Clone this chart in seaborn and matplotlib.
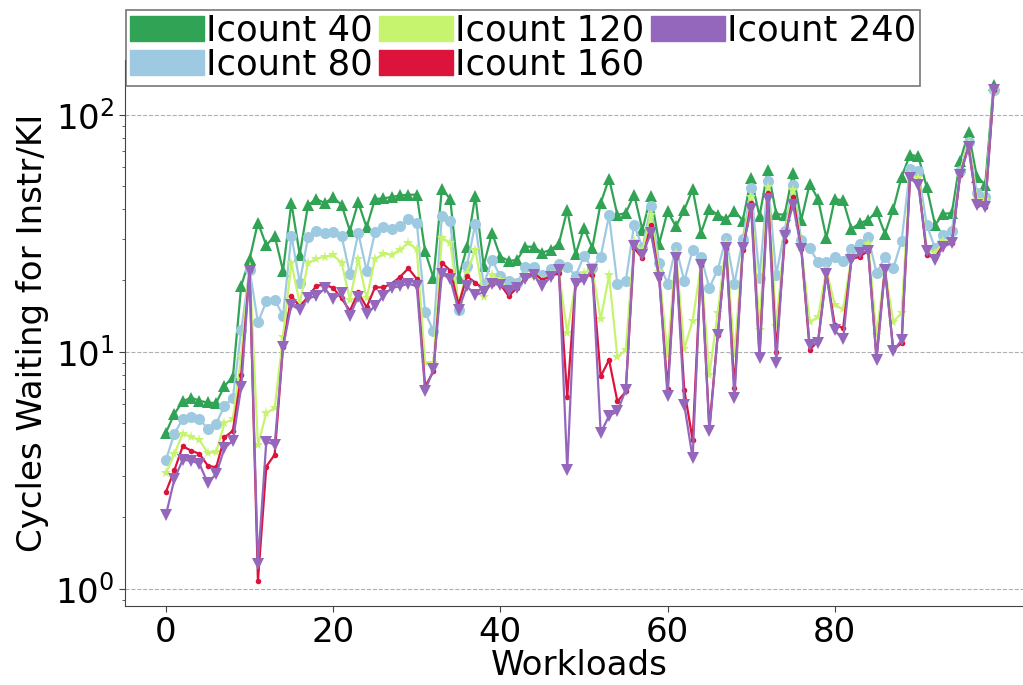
import matplotlib
matplotlib.use("Agg")
import matplotlib.pyplot as plt
from matplotlib.patches import Patch
import numpy as np
import pandas as pd
import seaborn as sns

#%% Data
workloads = list(range(100))

icount_40 = [4.56, 5.47, 6.17, 6.41, 6.21, 6.11, 6.07, 7.19, 7.79, 19.0,
             24.6, 35.1, 28.1, 30.9, 22.0, 42.4, 25.7, 41.6, 44.1, 42.4,
             44.8, 41.7, 32.4, 42.7, 33.5, 44.1, 44.4, 45.0, 45.7, 46.0,
             46.0, 26.5, 20.5, 48.5, 44.2, 20.5, 27.6, 45.5, 23.1, 31.7,
             25.2, 24.2, 24.4, 27.8, 27.7, 26.2, 26.9, 28.6, 39.7, 25.8,
             33.3, 27.4, 42.4, 53.8, 37.8, 38.5, 46.0, 32.7, 45.5, 28.6,
             39.1, 33.8, 39.7, 48.5, 31.7, 40.1, 37.8, 36.3, 39.3, 35.8,
             54.0, 37.3, 58.6, 38.2, 37.8, 56.8, 36.0, 51.2, 44.1, 30.2,
             44.1, 43.5, 33.0, 34.9, 36.0, 39.1, 31.5, 40.0, 54.9, 67.8,
             66.7, 49.5, 34.3, 38.2, 38.5, 64.1, 84.2, 54.9, 50.7, 133.8]

icount_80 = [3.50, 4.51, 5.21, 5.30, 5.21, 4.73, 4.97, 5.92, 6.38, 12.3,
             22.2, 13.3, 16.3, 16.6, 14.2, 30.9, 19.6, 30.5, 32.2, 31.7,
             32.0, 30.9, 21.3, 31.7, 22.0, 32.0, 33.5, 33.0, 34.0, 36.3,
             35.1, 14.7, 12.2, 37.3, 35.8, 15.0, 23.1, 34.6, 19.2, 24.4,
             20.8, 19.8, 19.6, 22.7, 22.7, 21.0, 22.3, 23.5, 22.9, 20.9,
             25.4, 22.5, 25.2, 37.6, 19.3, 19.9, 34.3, 27.5, 41.1, 23.7,
             19.4, 27.6, 19.9, 26.9, 25.2, 18.6, 22.2, 30.2, 19.4, 29.9,
             49.1, 20.5, 52.7, 21.1, 32.4, 50.7, 29.7, 27.4, 23.9, 24.0,
             25.0, 24.2, 27.2, 28.5, 30.5, 21.5, 25.0, 22.5, 29.4, 59.2,
             58.0, 34.3, 27.4, 31.2, 32.2, 58.0, 77.1, 46.7, 45.2, 127.0]

icount_120 = [3.08, 3.71, 4.51, 4.39, 4.25, 3.74, 3.77, 5.00, 5.20, 9.55,
              22.9, 4.05, 5.51, 5.79, 11.6, 23.7, 16.0, 23.7, 24.7, 25.2,
              25.5, 23.8, 16.6, 24.6, 16.8, 24.6, 25.9, 25.7, 26.9, 28.9,
              27.1, 8.96, 9.01, 30.2, 28.9, 15.9, 21.6, 26.9, 17.1, 21.1,
              20.1, 18.1, 18.9, 20.8, 20.8, 19.8, 21.1, 21.8, 12.0, 19.6,
              21.6, 22.2, 13.7, 21.0, 9.50, 10.2, 29.2, 26.5, 37.8, 21.8,
              9.71, 26.1, 10.3, 13.5, 23.3, 8.00, 14.6, 28.7, 9.71, 27.8,
              45.2, 12.4, 49.8, 12.8, 30.6, 48.3, 27.6, 13.4, 14.0, 22.2,
              15.8, 15.1, 25.2, 26.2, 28.6, 11.8, 22.3, 13.4, 14.6, 55.8,
              54.0, 27.4, 26.1, 29.2, 29.2, 56.8, 76.0, 43.8, 43.8, 127.0]

icount_160 = [2.57, 3.16, 3.99, 3.83, 3.71, 3.31, 3.25, 4.35, 4.64, 8.0,
              22.2, 1.08, 3.28, 3.68, 10.5, 17.2, 15.5, 17.1, 19.0, 19.2,
              18.6, 16.8, 14.9, 17.8, 15.4, 18.7, 18.7, 19.4, 20.7, 22.5,
              20.3, 7.14, 8.26, 23.8, 22.0, 15.8, 20.8, 19.6, 18.3, 19.4,
              19.2, 17.2, 18.6, 20.5, 21.5, 20.1, 20.8, 21.5, 6.44, 19.6,
              20.8, 21.1, 7.87, 9.25, 6.17, 6.80, 27.4, 24.8, 34.2, 20.5,
              6.96, 25.2, 6.91, 4.25, 23.3, 4.77, 11.8, 27.4, 7.03, 26.9,
              42.4, 9.71, 46.7, 10.0, 29.2, 45.2, 27.2, 10.2, 11.1, 21.5,
              13.0, 12.6, 24.6, 25.2, 26.7, 9.40, 22.5, 10.2, 10.9, 54.0,
              52.3, 25.7, 24.9, 28.3, 28.7, 55.8, 73.5, 41.7, 41.0, 126.7]

icount_240 = [2.05, 2.90, 3.50, 3.47, 3.37, 2.79, 3.05, 3.92, 4.22, 7.10,
              22.0, 1.27, 4.18, 4.05, 10.5, 15.8, 15.0, 16.8, 17.2, 18.5,
              16.7, 17.7, 14.2, 17.1, 14.4, 15.6, 17.2, 18.6, 18.9, 19.4,
              18.9, 6.85, 8.45, 21.3, 20.3, 15.0, 18.9, 17.4, 17.8, 19.4,
              19.2, 18.0, 18.6, 20.3, 21.1, 18.9, 20.7, 22.2, 3.18, 19.4,
              20.1, 22.2, 4.54, 5.37, 5.60, 6.91, 28.0, 25.7, 31.7, 20.5,
              6.48, 24.9, 5.98, 3.56, 23.3, 4.61, 11.8, 27.4, 6.38, 27.4,
              40.0, 9.40, 44.2, 8.96, 30.9, 41.7, 27.1, 10.7, 10.9, 21.3,
              12.3, 11.3, 24.4, 26.1, 26.7, 9.25, 22.2, 10.1, 11.2, 54.0,
              50.7, 26.7, 24.4, 27.8, 28.7, 55.8, 73.1, 41.5, 41.0, 126.7]

labels = ["Icount 40", "Icount 80", "Icount 120", "Icount 160", "Icount 240"]
series = [icount_40, icount_80, icount_120, icount_160, icount_240]

#%% Styling
colors = {"Icount 40": "#31a354",
          "Icount 80": "#9ecae1",
          "Icount 120": "#c7f46e",
          "Icount 160": "#dc143c",
          "Icount 240": "#9467bd"}
markers = {"Icount 40": "^",
           "Icount 80": "o",
           "Icount 120": "*",
           "Icount 160": ".",
           "Icount 240": "v"}

sns.set_style("ticks")
plt.rcParams["font.family"] = ["DejaVu Sans"]
plt.rcParams["text.color"] = "black"
plt.rcParams["axes.labelcolor"] = "black"
plt.rcParams["axes.edgecolor"] = "#444444"
plt.rcParams["xtick.color"] = "#444444"
plt.rcParams["ytick.color"] = "#444444"
plt.rcParams["xtick.labelcolor"] = "black"
plt.rcParams["ytick.labelcolor"] = "black"

# long-form table for seaborn
df = pd.DataFrame({
    "Workloads": np.tile(workloads, len(labels)),
    "value": np.concatenate([np.array(s) for s in series]),
    "config": np.repeat(labels, len(workloads)),
})

fig = plt.figure(figsize=(10.23, 6.85), dpi=100)
ax = fig.add_axes([0.1218, 0.1158, 0.8899, 0.7966])

sns.lineplot(data=df, x="Workloads", y="value", hue="config", style="config",
             hue_order=labels, style_order=labels, palette=colors,
             markers=markers, dashes=False, markersize=8, markeredgewidth=0,
             linewidth=1.6, ax=ax, legend=False)

ax.set_yscale("log")
ax.set_xticks([0, 20, 40, 60, 80])
ax.tick_params(axis="both", labelsize=24.5, length=4)
ax.tick_params(axis="y", which="minor", length=2.5)
ax.set_xlabel("Workloads", fontsize=24.5, labelpad=0)
ax.set_ylabel("Cycles Waiting for Instr/KI", fontsize=24.5)
ax.grid(axis="y", which="major", linestyle="--", color="#b0b0b0", linewidth=0.8)
sns.despine(ax=ax)

#---- Legend with colour patches ----
handles = [Patch(color=colors[l], label=l) for l in labels]
leg = fig.legend(handles=handles, loc="upper left", bbox_to_anchor=(0.123, 0.986),
                 ncol=3, fontsize=25.5, frameon=True, fancybox=False,
                 borderaxespad=0, borderpad=0.12, handlelength=2.08,
                 handletextpad=0.05, columnspacing=0.2, labelspacing=0.0)
leg.get_frame().set_edgecolor("#555555")
leg.get_frame().set_linewidth(1.2)

fig.savefig("out.png", dpi=100)
